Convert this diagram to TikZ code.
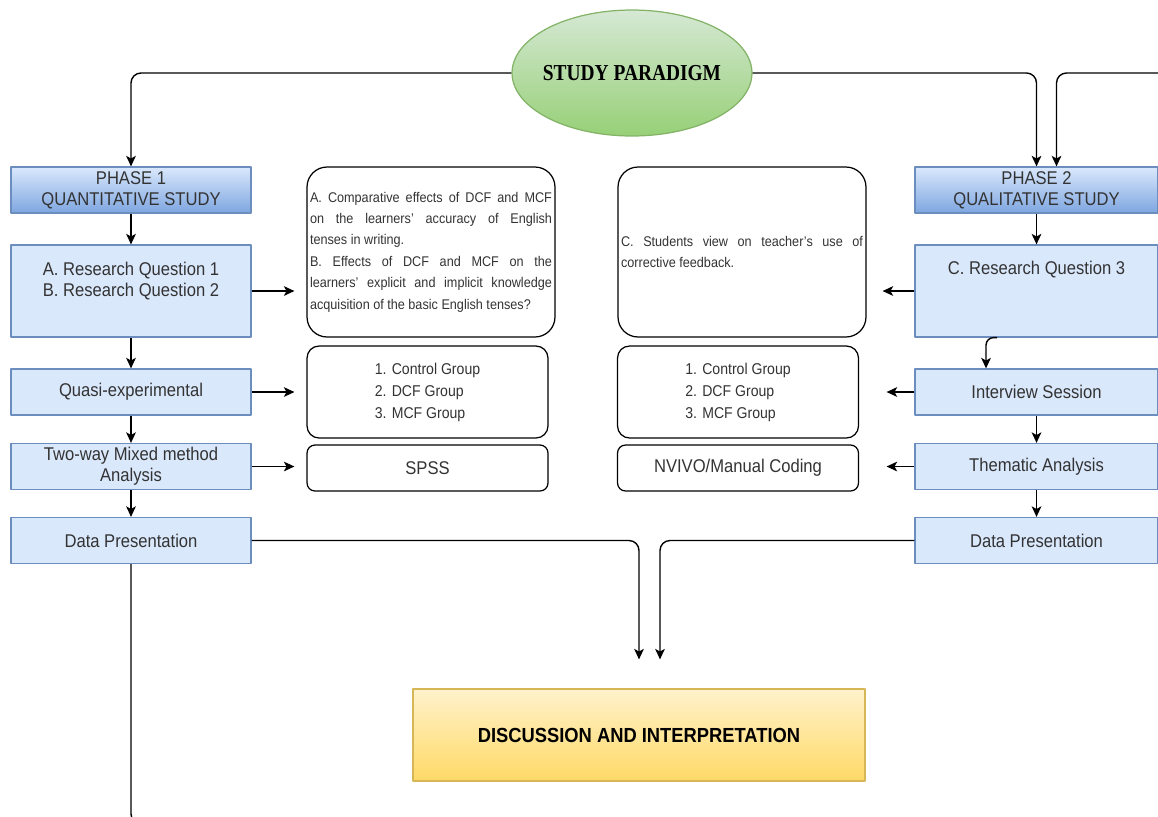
\documentclass[tikz,border=0pt]{standalone}
\usepackage{fontspec}
\setmainfont{Liberation Sans}[FakeStretch=0.9]
\newfontfamily\paradigmfont{Liberation Serif}[FakeStretch=0.85]
\usetikzlibrary{shapes.geometric,arrows.meta}
\definecolor{bluefill}{HTML}{DAE8FC}
\definecolor{bluedark}{HTML}{7EA6E0}
\definecolor{blueline}{HTML}{6C8EBF}
\definecolor{greentop}{HTML}{D5E8D4}
\definecolor{greenbot}{HTML}{97D077}
\definecolor{greenline}{HTML}{82B366}
\definecolor{yellowtop}{HTML}{FFF2CC}
\definecolor{yellowbot}{HTML}{FFD966}
\definecolor{yellowline}{HTML}{D6B656}
\definecolor{txtgray}{HTML}{333333}
\begin{document}
\begin{tikzpicture}[x=0.02cm,y=-0.02cm,line join=round,>={Stealth[length=6pt,width=5.5pt,inset=1.5pt]},
	font=\fontsize{10.5}{12}\selectfont,
	blk/.style={draw=blueline,line width=0.7pt,fill=bluefill,minimum width=4.8cm,minimum height=0.92cm,inner sep=1pt,align=center,text=txtgray},
	phase/.style={blk,top color=bluefill,bottom color=bluedark},
	rbox/.style={draw,line width=0.7pt,rounded corners=0.24cm,minimum width=4.82cm,minimum height=0.92cm,inner sep=1pt,text=txtgray},
	link/.style={->,line width=0.8pt,rounded corners=0.2cm}]
	\useasboundingbox (0,0) rectangle (1158,816);
	\node[ellipse,draw=greenline,line width=0.7pt,top color=greentop,bottom color=greenbot,minimum width=4.8cm,minimum height=2.52cm,inner xsep=-0.15cm,inner ysep=0pt,font=\paradigmfont\bfseries\fontsize{13}{14}\selectfont] (paradigm) at (632,73) {STUDY PARADIGM};
	\node[phase] (ph1) at (131,190) {PHASE 1\\QUANTITATIVE STUDY};
	\node[blk,minimum height=1.84cm,label={[text=txtgray,align=center,yshift=0.2cm]center:A. Research Question 1\\B. Research Question 2}] (rq1) at (131,291) {};
	\node[blk] (quasi) at (131,392) {Quasi-experimental};
	\node[blk] (mixed) at (131,466.5) {Two-way Mixed method\\Analysis};
	\node[blk] (dp1) at (131,540.5) {Data Presentation};
	\node[rbox,minimum width=4.96cm,minimum height=3.4cm,rounded corners=0.4cm,text width=4.84cm,align=justify,font=\fontsize{8}{12.2}\selectfont] (rqab) at (431,252) {A. Comparative effects of DCF and MCF\linebreak on the learners' accuracy of English\linebreak tenses in writing.\\B. Effects of DCF and MCF on the\linebreak learners' explicit and implicit knowledge\linebreak acquisition of the basic English tenses?};
	\node[rbox,minimum width=4.96cm,minimum height=3.4cm,rounded corners=0.4cm,text width=4.84cm,align=justify,font=\fontsize{8}{12.2}\selectfont] (rqc) at (742,252) {C. Students view on teacher's use of\linebreak corrective feedback.};
	\node[rbox,align=left,minimum height=1.84cm,font=\fontsize{8.9}{12.5}\selectfont] (grp1) at (427.5,392) {1. Control Group\\2. DCF Group\\3. MCF Group};
	\node[rbox,align=left,minimum height=1.84cm,font=\fontsize{8.9}{12.5}\selectfont] (grp2) at (738,392) {1. Control Group\\2. DCF Group\\3. MCF Group};
	\node[rbox,rounded corners=0.16cm] (spss) at (427.5,468) {SPSS};
	\node[rbox,rounded corners=0.16cm] (nvivo) at (738,468) {NVIVO/Manual Coding};
	\node[phase,minimum width=4.86cm] (ph2) at (1036.5,190) {PHASE 2\\QUALITATIVE STUDY};
	\node[blk,minimum width=4.86cm,minimum height=1.84cm,label={[text=txtgray,yshift=0.42cm]center:C. Research Question 3}] (rq3) at (1036.5,291) {};
	\node[blk,minimum width=4.86cm] (intv) at (1036.5,392) {Interview Session};
	\node[blk,minimum width=4.86cm] (them) at (1036.5,466.5) {Thematic Analysis};
	\node[blk,minimum width=4.86cm] (dp2) at (1036.5,540.5) {Data Presentation};
	\node[draw=yellowline,line width=0.7pt,top color=yellowtop,bottom color=yellowbot,minimum width=9.04cm,minimum height=1.84cm,font=\bfseries\fontsize{11.6}{13}\selectfont] (disc) at (639,735) {DISCUSSION AND INTERPRETATION};
	\coordinate (edge) at (1162,73);
	\coordinate (bend) at (200,824);
	\draw[link] (paradigm.west) -| (ph1.north);
	\draw[link] (paradigm.east) -| (ph2.north);
	\draw[link] (edge) -| ([xshift=0.4cm]ph2.north);
	\foreach \a/\b in {ph1/rq1,rq1/quasi,quasi/mixed,mixed/dp1,ph2/rq3,intv/them,them/dp2}
		\draw[link] (\a.south) -- (\b.north);
	\draw[link,shorten >=0.24cm] (rq1.east) -- (rq1.east -| rqab.west);
	\draw[link,shorten >=0.24cm] (quasi.east) -- (quasi.east -| grp1.west);
	\draw[link,shorten >=0.24cm] (mixed.east) -- (mixed.east -| spss.west);
	\draw[link,shorten >=0.32cm] (rq3.west) -- (rq3.west -| rqc.east);
	\draw[link,shorten >=0.55cm] (intv.west) -- (intv.west -| grp2.east);
	\draw[link,shorten >=0.55cm] (them.west) -- (them.west -| nvivo.east);
	\draw[link,rounded corners=0.15cm] ([xshift=-0.79cm]rq3.south) -| ([xshift=-1.01cm]intv.north);
	\draw[link,shorten >=0.58cm] (dp1.east) -| (disc.north);
	\draw[link,shorten >=0.58cm] (dp2.west) -| ([xshift=0.42cm]disc.north);
	\draw[line width=0.8pt,rounded corners=0.2cm] (dp1.south) |- (bend);
\end{tikzpicture}
\end{document}
